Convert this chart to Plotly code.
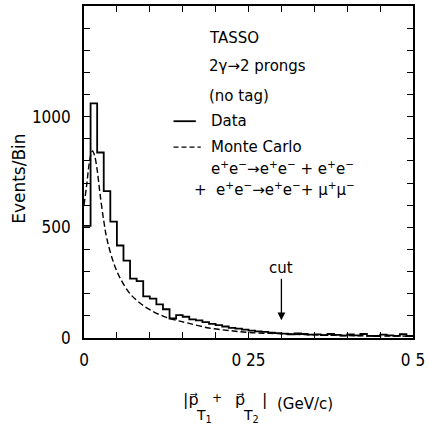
import plotly.graph_objects as go

# |pT1 + pT2| histogram, 0.01 GeV/c bins from 0 to 0.5
bin_width = 0.01
data_counts = [507, 1060, 838, 664, 526, 418, 350, 268, 257, 188,
               178, 152, 130, 88, 103, 96, 84, 80, 72, 64,
               58, 52, 46, 42, 38, 33, 30, 28, 24, 22,
               20, 17, 21, 18, 15, 16, 13, 18, 14, 11,
               16, 12, 18, 10, 9, 15, 12, 10, 17, 9]

# Monte Carlo prediction (smooth curve)
mc_x = [0.0, 0.004, 0.008, 0.011, 0.013, 0.016, 0.02, 0.024, 0.03, 0.035,
        0.045, 0.055, 0.07, 0.085, 0.1, 0.12, 0.14, 0.16, 0.19, 0.22,
        0.25, 0.3, 0.35, 0.4, 0.45, 0.5]
mc_y = [600, 690, 790, 835, 845, 825, 760, 660, 530, 445,
        340, 270, 200, 158, 128, 99, 80, 66, 45, 34,
        25, 19, 14, 11, 9, 8]

cut_value = 0.3

x_tick_vals = [round(0.05 * i, 2) for i in range(11)]
x_tick_text = ["0", "", "", "", "", "0 25", "", "", "", "", "0 5"]
y_tick_vals = list(range(0, 1501, 100))
y_tick_text = ["0", "", "", "", "", "500", "", "", "", "", "1000", "", "", "", "", ""]

TXT = "DejaVu Sans, Liberation Sans, sans-serif"
NUM = "Liberation Sans Narrow, DejaVu Sans Condensed, Liberation Sans, sans-serif"

edges = [round(i * bin_width, 2) for i in range(len(data_counts) + 1)]
step_x = edges
step_y = data_counts + [data_counts[-1]]

fig = go.Figure()
fig.add_trace(go.Scatter(x=step_x, y=step_y, mode="lines", line_shape="hv",
                         line=dict(color="black", width=1.8), showlegend=False))
fig.add_trace(go.Scatter(x=mc_x, y=mc_y, mode="lines", line_shape="spline",
                         line=dict(color="black", width=1.4, dash="6px,3px"),
                         showlegend=False))

axis_common = dict(showline=True, linecolor="black", linewidth=1.6, mirror="ticks",
                   ticks="inside", ticklen=6, tickwidth=1.3, tickcolor="black",
                   showgrid=False, zeroline=False,
                   tickfont=dict(family=NUM, size=17, color="black"))

fig.update_xaxes(range=[0, 0.5], tickmode="array", tickvals=x_tick_vals,
                 ticktext=x_tick_text, ticklabelstandoff=6, **axis_common)
fig.update_yaxes(range=[0, 1500], tickmode="array", tickvals=y_tick_vals,
                 ticktext=y_tick_text, ticklabelstandoff=8, **axis_common)

# legend-style labels inside the frame
labels = [
    ("TASSO", 0.375, 0.904),
    ("2γ→2 prongs", 0.375, 0.818),
    ("(no tag)", 0.375, 0.728),
    ("Data", 0.381, 0.653),
    ("Monte Carlo", 0.381, 0.575),
    ("e<sup>+</sup>e<sup>−</sup>→e<sup>+</sup>e<sup>−</sup> + e<sup>+</sup>e<sup>−</sup>", 0.381, 0.512),
    ("+  e<sup>+</sup>e<sup>−</sup>→e<sup>+</sup>e<sup>−</sup>+ μ<sup>+</sup>μ<sup>−</sup>", 0.329, 0.450),
]
for text, px, py in labels:
    fig.add_annotation(text=text, x=px, y=py, xref="paper", yref="paper",
                       xanchor="left", yanchor="middle", showarrow=False,
                       font=dict(family=TXT, size=15, color="black"))

fig.add_shape(type="line", xref="paper", yref="paper", x0=0.272, x1=0.34,
              y0=0.653, y1=0.653, line=dict(color="black", width=1.8))
fig.add_shape(type="line", xref="paper", yref="paper", x0=0.272, x1=0.355,
              y0=0.575, y1=0.575, line=dict(color="black", width=1.4, dash="5px,3px"))

# cut marker
fig.add_annotation(x=cut_value, y=80, xref="x", yref="y", text="cut",
                   showarrow=True, arrowhead=2, arrowsize=1.2, arrowwidth=1.3,
                   arrowcolor="black", ax=0, ay=-52, standoff=0,
                   font=dict(family=TXT, size=15, color="black"))

# axis titles
fig.add_annotation(text="Events/Bin", x=-0.2, y=0.48, xref="paper", yref="paper",
                   textangle=-90, showarrow=False, xanchor="center", yanchor="middle",
                   font=dict(family=TXT, size=17, color="black"))

# x title: |p_T1 + p_T2|  (GeV/c), pieces placed along one line
title_parts = [
    ("|p\u20d7", 0.296, -0.186, 16),
    ("T<sub>1</sub>", 0.333, -0.236, 14),
    ("+", 0.384, -0.180, 12),
    ("p\u20d7", 0.452, -0.186, 16),
    ("T<sub>2</sub>", 0.478, -0.236, 14),
    ("|", 0.535, -0.186, 16),
    ("(GeV/c)", 0.580, -0.200, 15),
]
for text, px, py, size in title_parts:
    fig.add_annotation(text=text, x=px, y=py, xref="paper", yref="paper",
                       showarrow=False, xanchor="left", yanchor="middle",
                       font=dict(family=TXT, size=size, color="black"))

fig.update_layout(width=429, height=433, plot_bgcolor="white", paper_bgcolor="white",
                  margin=dict(l=84, r=14, t=4, b=95))

fig.write_html("out.html")
